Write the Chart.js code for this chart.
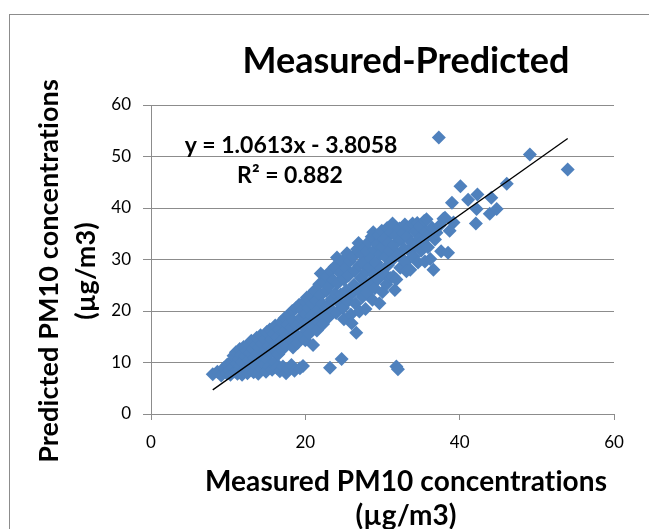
<!DOCTYPE html>
<html>
<head>
<meta charset="utf-8">
<script src="https://cdn.jsdelivr.net/npm/chart.js@4.4.0/dist/chart.umd.min.js"></script>
<style>
  html, body { margin: 0; padding: 0; background: #fff; overflow: hidden; }
  #marco { position: absolute; left: 9px; top: 14px; width: 700px; height: 600px; border: 1px solid #8c8c8c; }
  #grafica { position: absolute; left: 0; top: 0; }
</style>
</head>
<body>
<div id="marco"></div>
<canvas id="grafica" width="649" height="529"></canvas>
<script>

// Datos: PM10 medido vs predicho (µg/m3)

const medido = [
  8.0, 8.6, 9.1, 9.4, 9.8, 9.9, 10.1,
  10.3, 10.4, 10.6, 10.7, 10.9, 11.0, 11.1, 11.2,
  11.3, 11.4, 11.5, 11.6, 11.7, 11.8, 11.9, 12.0, 12.0,
  12.2, 12.3, 12.4, 12.5, 12.6, 12.7, 12.8, 12.9, 13.0, 13.0,
  13.2, 13.3, 13.4, 13.5, 13.6, 13.7, 13.8, 13.9, 14.0, 14.0,
  14.2, 14.3, 14.4, 14.5, 14.6, 14.7, 14.8, 14.9, 15.0, 15.0,
  15.2, 15.3, 15.4, 15.5, 15.6, 15.7, 15.8, 15.9, 16.0,
  16.1, 16.2, 16.3, 16.4, 16.5, 16.6, 16.7, 16.8, 16.9, 17.0,
  17.1, 17.2, 17.3, 17.4, 17.5, 17.6, 17.7, 17.8, 17.9, 18.0,
  18.1, 18.2, 18.3, 18.4, 18.5, 18.6, 18.7, 18.8, 18.9, 19.0,
  19.2, 19.3, 19.4, 19.5, 19.6, 19.7, 19.8, 19.9, 20.0, 20.0,
  20.2, 20.3, 20.4, 20.5, 20.7, 20.8, 20.9, 21.0, 21.0,
  21.2, 21.3, 21.4, 21.5, 21.6, 21.8, 21.9, 22.0, 22.0,
  22.2, 22.3, 22.4, 22.6, 22.7, 22.8, 22.9, 23.0,
  23.1, 23.2, 23.3, 23.4, 23.5, 23.6, 23.8, 23.9, 24.0,
  24.1, 24.2, 24.3, 24.5, 24.6, 24.7, 24.8, 24.9, 25.0, 25.0,
  25.2, 25.3, 25.4, 25.5, 25.6, 25.8, 25.9, 26.0, 26.0,
  26.2, 26.3, 26.4, 26.5, 26.6, 26.7, 26.8, 26.9, 27.0, 27.0,
  27.2, 27.3, 27.4, 27.5, 27.6, 27.7, 27.8, 27.9, 28.0, 28.0,
  28.2, 28.3, 28.4, 28.5, 28.6, 28.7, 28.8, 28.9, 29.0, 29.0,
  29.2, 29.3, 29.4, 29.5, 29.6, 29.7, 29.8, 29.9, 30.0, 30.0,
  30.2, 30.3, 30.4, 30.5, 30.6, 30.7, 30.8, 30.9, 31.0,
  31.1, 31.2, 31.3, 31.4, 31.5, 31.6, 31.7, 31.8, 31.8, 32.0, 32.0,
  32.2, 32.3, 32.4, 32.5, 32.7, 32.8, 32.9, 33.0,
  33.1, 33.2, 33.4, 33.5, 33.6, 33.8, 33.9, 34.0,
  34.2, 34.3, 34.5, 34.6, 34.8, 34.9, 35.0,
  35.2, 35.4, 35.5, 35.6, 35.7, 35.9, 36.0,
  36.2, 36.4, 36.6, 36.8, 37.0,
  37.3, 37.4, 37.6, 37.9, 38.1,
  38.5, 38.7, 39.0, 39.2, 40.1,
  41.1, 42.1, 42.2, 42.3, 43.9, 44.1, 44.8, 46.1, 49.1, 54.0
];

const predicho = [
  7.7, 8.2, 7.5, 8.9, 7.9, 9.6, 8.4,
  7.6, 10.2, 9.1, 11.3, 8.2, 12.0, 9.8, 7.8,
  10.7, 8.7, 12.6, 9.4, 11.5, 7.6, 10.1, 13.0, 8.3,
  11.2, 9.0, 12.3, 7.9, 10.5, 13.6, 8.6, 11.8, 9.7, 14.2,
  12.6, 8.1, 10.9, 13.4, 9.3, 14.8, 11.6, 7.8, 12.9, 10.2,
  15.3, 8.8, 13.7, 11.1, 9.6, 14.6, 12.4, 8.2, 15.9, 10.6,
  13.2, 9.2, 16.4, 11.9, 14.5, 8.6, 12.8, 15.6, 10.1,
  17.2, 13.8, 9.0, 15.0, 11.6, 16.5, 8.3, 14.1, 17.9, 12.5,
  9.2, 16.0, 18.6, 13.5, 7.9, 15.2, 17.4, 8.7, 19.3, 14.6,
  16.8, 9.5, 20.0, 12.9, 18.1, 8.4, 15.7, 20.6, 17.2, 13.8,
  21.2, 8.9, 18.7, 15.1, 20.1, 9.3, 16.9, 21.9, 19.4, 14.3,
  22.6, 17.8, 20.6, 15.6, 23.1, 19.0, 21.4, 13.4, 17.1,
  24.0, 18.4, 22.0, 16.2, 20.3, 25.2, 19.1, 23.1, 27.3,
  21.4, 17.5, 25.6, 19.8, 23.9, 26.7, 21.0, 18.8,
  24.8, 9.0, 27.8, 22.3, 20.1, 26.0, 28.6, 23.4, 19.6,
  30.4, 25.4, 21.7, 27.4, 23.2, 10.7, 29.6, 20.6, 26.1, 18.4,
  28.3, 24.0, 31.2, 21.9, 26.9, 29.7, 19.3, 23.3, 17.6,
  30.6, 25.1, 27.8, 21.4, 15.8, 32.0, 24.2, 33.2, 28.9, 19.9,
  26.4, 30.9, 22.7, 29.2, 24.8, 32.3, 20.4, 27.6, 31.5, 23.6,
  33.4, 28.5, 25.7, 30.2, 34.4, 22.2, 35.3, 27.1, 31.9, 24.4,
  29.4, 33.0, 26.2, 34.7, 21.5, 31.0, 28.2, 35.6, 23.7, 32.4,
  27.3, 34.0, 30.5, 25.2, 36.1, 28.9, 33.2, 31.6, 26.4,
  35.2, 29.8, 37.0, 26.7, 32.8, 24.1, 34.6, 9.2, 26.1, 31.0, 8.7,
  36.0, 28.4, 33.9, 30.2, 35.1, 32.1, 36.8, 29.5,
  27.7, 34.4, 31.8, 36.3, 28.0, 33.3, 37.0, 30.6,
  35.5, 32.6, 37.1, 29.4, 34.1, 36.4, 31.7,
  33.6, 37.5, 29.6, 35.4, 37.8, 32.4, 34.8,
  30.1, 36.2, 28.0, 33.9, 35.2,
  53.7, 36.6, 31.6, 37.9, 38.1,
  31.3, 35.6, 41.0, 37.2, 44.2,
  41.6, 37.0, 39.8, 42.6, 38.9, 42.0, 39.8, 44.7, 50.4, 47.5
];

// Recta de regresion (y = pendiente * x + intercepto)
const pendiente = 1.0613;
const intercepto = -3.8058;
const r2 = 0.882;

const ticksX = [0, 20, 40, 60];
const ticksY = [0, 10, 20, 30, 40, 50, 60];

const titulo = 'Measured-Predicted';
const tituloX = ['Measured PM10 concentrations', '(µg/m3)'];
const tituloY = ['Predicted PM10 concentrations', '(µg/m3)'];

const fuente = 'Lato, Carlito, Calibri, sans-serif';
const gris = '#8c8c8c';

// Puntos y recta

const puntos = medido.map((x, i) => ({ x: x, y: predicho[i] }));

const xMin = Math.min(...medido);
const xMax = Math.max(...medido);
const recta = [
  { x: xMin, y: pendiente * xMin + intercepto },
  { x: xMax, y: pendiente * xMax + intercepto }
];

const ecuacion = 'y = ' + pendiente + 'x - ' + Math.abs(intercepto);
const textoR2 = 'R² = ' + r2;

// Textos de la grafica (titulo, ecuacion, ejes)

const textos = {
  id: 'textos',
  afterDraw(chart) {
    const ctx = chart.ctx;
    ctx.save();
    ctx.fillStyle = '#000';
    ctx.textAlign = 'center';
    ctx.textBaseline = 'alphabetic';

    ctx.font = 'bold 36px ' + fuente;
    ctx.fillText(titulo, 406, 73);

    ctx.font = 'bold 23px ' + fuente;
    ctx.fillText(ecuacion, 291, 153);
    ctx.fillText(textoR2, 290, 183);

    // sin ligaduras en los titulos de los ejes
    ctx.letterSpacing = '0.1px';
    ctx.font = 'bold 28px ' + fuente;
    ctx.fillText(tituloX[0], 406, 491);
    ctx.fillText(tituloX[1], 406, 525);

    ctx.font = 'bold 27px ' + fuente;
    ctx.translate(0, 271);
    ctx.rotate(-Math.PI / 2);
    ctx.fillText(tituloY[0], 0, 58);
    ctx.fillText(tituloY[1], 0, 95);
    ctx.restore();
  }
};

const grafica = document.getElementById('grafica');

const config = {
  type: 'scatter',
  data: {
    datasets: [{
      label: 'Recta',
      type: 'line',
      data: recta,
      borderColor: '#000',
      borderWidth: 1.3,
      pointRadius: 0,
      fill: false,
      order: 0
    }, {
      label: 'PM10',
      data: puntos,
      pointStyle: 'rectRot',
      pointRadius: 7,
      pointHoverRadius: 7,
      backgroundColor: '#4f81bd',
      borderColor: '#4f81bd',
      borderWidth: 0,
      order: 1
    }]
  },
  options: {
    responsive: false,
    animation: false,
    events: [],
    layout: {
      padding: { left: 0, top: 105, right: 35, bottom: 70 }
    },
    plugins: {
      legend: { display: false },
      title: { display: false },
      tooltip: { enabled: false }
    },
    scales: {
      x: {
        type: 'linear',
        min: 0,
        max: 60,
        afterFit: s => { s.height = 45; },
        afterBuildTicks: s => { s.ticks = ticksX.map(v => ({ value: v })); },
        grid: { drawOnChartArea: false, color: gris, tickLength: 6 },
        border: { color: gris, width: 1 },
        ticks: { color: '#000', font: { family: fuente, size: 17 }, padding: 12 }
      },
      y: {
        type: 'linear',
        min: 0,
        max: 60,
        afterFit: s => { s.width = 151; },
        afterBuildTicks: s => { s.ticks = ticksY.map(v => ({ value: v })); },
        grid: { color: gris, tickLength: 8 },
        border: { color: gris, width: 1 },
        ticks: { color: '#000', font: { family: fuente, size: 17 }, padding: 12 }
      }
    }
  },
  plugins: [textos]
};

const pmChart = new Chart(grafica, config);
</script>
</body>
</html>
